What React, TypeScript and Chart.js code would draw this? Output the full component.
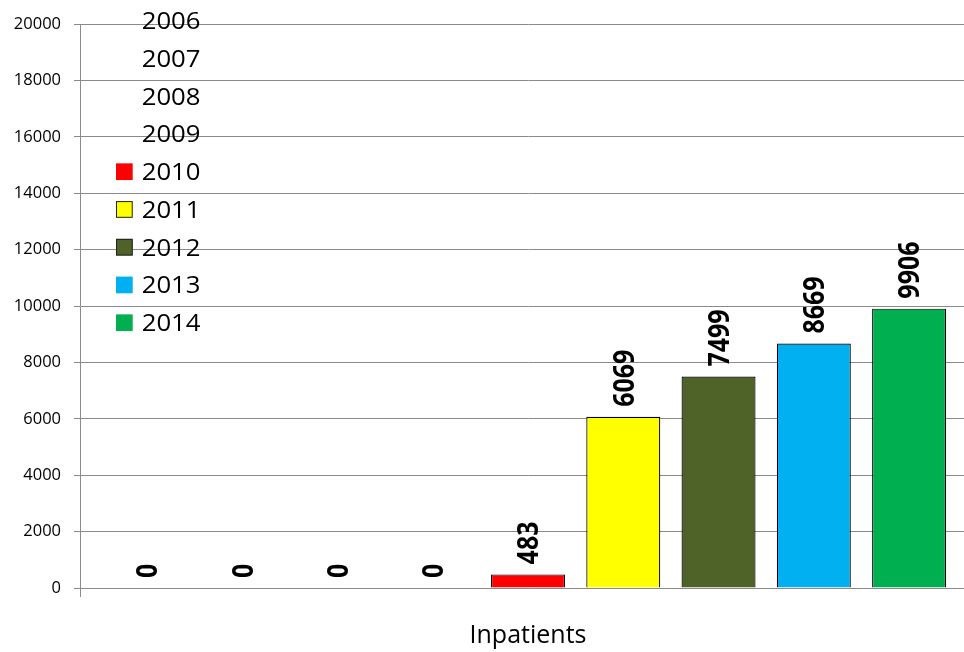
import React, { useEffect, useRef } from "react";
import { Chart, registerables } from "chart.js";

Chart.register(...registerables);

const categories = ["Inpatients"];
const years = ["2006", "2007", "2008", "2009", "2010", "2011", "2012", "2013", "2014"];
const inpatients = [0, 0, 0, 0, 483, 6069, 7499, 8669, 9906];
const seriesColors = [
  "rgba(0,0,0,0)",
  "rgba(0,0,0,0)",
  "rgba(0,0,0,0)",
  "rgba(0,0,0,0)",
  "#FF0000",
  "#FFFF00",
  "#4F6228",
  "#00B0F0",
  "#00B050",
];
const legendBoxBorder = [false, false, false, false, false, true, true, false, false];
const yMin = 0;
const yMax = 20000;
const yStep = 2000;

const GRID = "#8a8a8a";

const dataLabelPlugin = {
  id: "rotatedDataLabels",
  afterDatasetsDraw(chart: any) {
    const ctx = chart.ctx;
    const size = 25;
    const digitH = 0.714 * size;
    chart.data.datasets.forEach((ds: any, i: number) => {
      const meta = chart.getDatasetMeta(i);
      meta.data.forEach((el: any, j: number) => {
        const v = ds.data[j];
        ctx.save();
        ctx.translate(el.x, el.y - 10);
        ctx.scale(1.16, 1);
        ctx.rotate(-Math.PI / 2);
        ctx.font = `bold ${size}px "Open Sans"`;
        ctx.fillStyle = "#000";
        ctx.textAlign = "left";
        ctx.textBaseline = "alphabetic";
        ctx.fillText(String(v), 0, digitH / 2);
        ctx.restore();
      });
    });
  },
};

const overlayLegendPlugin = {
  id: "overlayLegend",
  afterDraw(chart: any) {
    const ctx = chart.ctx;
    const size = 23.4;
    const digitH = 0.714 * size;
    const x0 = 116;
    const box = 16.7;
    const textX = 141.7;
    const yStart = 20.7;
    const gap = 37.75;
    chart.data.datasets.forEach((ds: any, i: number) => {
      const cy = yStart + i * gap;
      const col = ds.backgroundColor;
      if (col && col !== "rgba(0,0,0,0)") {
        ctx.save();
        ctx.fillStyle = col;
        ctx.fillRect(x0, cy - box / 2, box, box);
        if (legendBoxBorder[i]) {
          ctx.strokeStyle = "#222";
          ctx.lineWidth = 1;
          ctx.strokeRect(x0 + 0.5, cy - box / 2 + 0.5, box - 1, box - 1);
        }
        ctx.restore();
      }
      ctx.save();
      ctx.translate(textX, cy + digitH / 2);
      ctx.scale(1.1, 1);
      ctx.font = `${size}px "Open Sans"`;
      ctx.fillStyle = "#000";
      ctx.textAlign = "left";
      ctx.textBaseline = "alphabetic";
      ctx.fillText(ds.label, 0, 0);
      ctx.restore();
    });
  },
};

export default function App() {
  const ref = useRef<HTMLCanvasElement | null>(null);

  useEffect(() => {
    if (!ref.current) return;
    const chart = new Chart(ref.current, {
      type: "bar",
      data: {
        labels: categories,
        datasets: years.map((y, i) => ({
          label: y,
          data: [inpatients[i]],
          backgroundColor: seriesColors[i],
          borderColor: i < 4 ? "rgba(0,0,0,0)" : "#000",
          borderWidth: 1.2,
          categoryPercentage: 0.957,
          barPercentage: 0.7765,
        })),
      },
      options: {
        responsive: false,
        animation: false,
        layout: { padding: { top: 24, left: 0, right: 0, bottom: 0 } },
        plugins: {
          legend: { display: false },
          tooltip: { enabled: false },
        },
        scales: {
          x: {
            afterFit: (s: any) => {
              s.height = 64;
            },
            grid: {
              drawOnChartArea: false,
              drawTicks: true,
              tickLength: 9,
              color: GRID,
              offset: true,
            },
            border: { color: GRID, width: 1 },
            ticks: {
              padding: 24,
              color: "#000",
              font: { family: '"Open Sans"', size: 25 },
            },
          },
          y: {
            min: yMin,
            max: yMax,
            afterFit: (s: any) => {
              s.width = 80;
            },
            grid: {
              color: GRID,
              tickLength: 6,
              drawTicks: true,
            },
            border: { color: GRID, width: 1 },
            ticks: {
              stepSize: yStep,
              padding: 13,
              color: "#000",
              font: { family: '"Open Sans"', size: 16.5 },
              callback: (v: any) => String(v),
            },
          },
        },
      },
      plugins: [dataLabelPlugin, overlayLegendPlugin],
    });
    return () => chart.destroy();
  }, []);

  return (
    <div
      style={{
        position: "fixed",
        left: 0,
        top: 0,
        width: 964,
        height: 652,
        overflow: "hidden",
        background: "#fff",
      }}
    >
      <canvas ref={ref} width={976} height={652} style={{ display: "block" }} />
    </div>
  );
}
